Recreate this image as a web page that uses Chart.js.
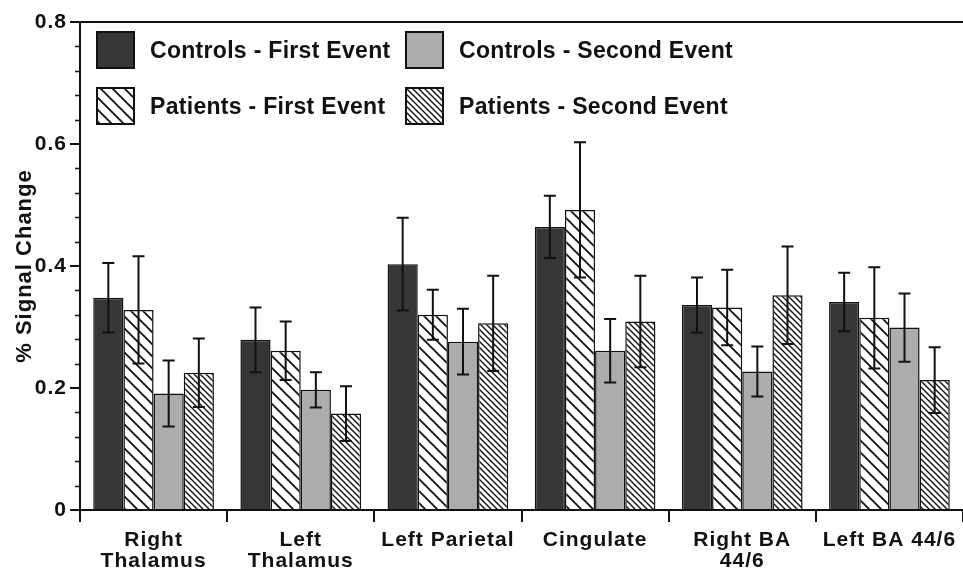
<!DOCTYPE html>
<html>
<head>
<meta charset="utf-8">
<script src="https://cdn.jsdelivr.net/npm/chart.js@4.4.1/dist/chart.umd.min.js"></script>
<style>
  html, body { margin: 0; padding: 0; background: #fff; }
  canvas { display: block; }
</style>
</head>
<body>
<canvas id="chart" width="963" height="569"></canvas>
<script>
// Brain regions (x categories)
const regions = [['Right', 'Thalamus'], ['Left', 'Thalamus'], 'Left Parietal', 'Cingulate', ['Right BA', '44/6'], 'Left BA 44/6'];

// Mean % signal change and error (half-length of the error bar) per group
const controlsFirst      = [0.348, 0.279, 0.403, 0.464, 0.336, 0.341];
const controlsFirstErr   = [0.057, 0.053, 0.076, 0.051, 0.045, 0.048];
const patientsFirst      = [0.328, 0.261, 0.320, 0.492, 0.332, 0.315];
const patientsFirstErr   = [0.088, 0.048, 0.041, 0.111, 0.062, 0.083];
const controlsSecond     = [0.191, 0.197, 0.276, 0.261, 0.227, 0.299];
const controlsSecondErr  = [0.054, 0.029, 0.054, 0.052, 0.041, 0.056];
const patientsSecond     = [0.225, 0.158, 0.306, 0.309, 0.352, 0.213];
const patientsSecondErr  = [0.056, 0.045, 0.078, 0.075, 0.080, 0.054];

// Y axis: labelled ticks every 0.2, minor ticks every 0.04
const yMajorTicks = [0, 0.2, 0.4, 0.6, 0.8];
const yMinorStep = 0.04;

const FONT = '"Liberation Sans", Arial, Helvetica, sans-serif';
const INK = '#111';

// Diagonal ("\") hatch fill
function hatch(spacing, lineWidth) {
  const c = document.createElement('canvas');
  c.width = spacing; c.height = spacing;
  const g = c.getContext('2d');
  g.fillStyle = '#fff';
  g.fillRect(0, 0, spacing, spacing);
  g.strokeStyle = INK;
  g.lineWidth = lineWidth;
  g.beginPath();
  for (const k of [-spacing, 0, spacing]) {
    g.moveTo(k - 1, -1);
    g.lineTo(k + spacing + 1, spacing + 1);
  }
  g.stroke();
  return g.createPattern(c, 'repeat');
}

const isMajor = v => yMajorTicks.some(m => Math.abs(m - v) < 1e-6);

// Slightly loose lettering for the axis texts
const looseText = {
  id: 'looseText',
  beforeDraw(chart) { chart.ctx.letterSpacing = '1px'; }
};

// Error bars drawn over the bars
const errorBars = {
  id: 'errorBars',
  afterDatasetsDraw(chart) {
    const { ctx } = chart;
    const y = chart.scales.y;
    ctx.save();
    ctx.strokeStyle = INK;
    ctx.lineWidth = 2;
    chart.data.datasets.forEach((ds, i) => {
      chart.getDatasetMeta(i).data.forEach((bar, j) => {
        const v = ds.data[j], e = ds.errors[j];
        const yt = y.getPixelForValue(v + e);
        const yb = y.getPixelForValue(v - e);
        ctx.beginPath();
        ctx.moveTo(bar.x, yt); ctx.lineTo(bar.x, yb);
        ctx.moveTo(bar.x - 6, yt); ctx.lineTo(bar.x + 6, yt);
        ctx.moveTo(bar.x - 6, yb); ctx.lineTo(bar.x + 6, yb);
        ctx.stroke();
      });
    });
    ctx.restore();
  }
};

// Top frame line, short minor ticks, and the two-column legend
const frameAndLegend = {
  id: 'frameAndLegend',
  afterDraw(chart) {
    const { ctx, chartArea: a } = chart;
    const y = chart.scales.y;
    ctx.save();
    ctx.strokeStyle = INK;
    ctx.lineWidth = 2;
    ctx.beginPath();
    ctx.moveTo(a.left, a.top);
    ctx.lineTo(a.right, a.top);
    ctx.stroke();

    ctx.lineWidth = 1.5;
    ctx.beginPath();
    y.ticks.forEach(t => {
      if (isMajor(t.value)) return;
      const py = Math.round(y.getPixelForValue(t.value)) + 0.5;
      ctx.moveTo(a.left - 5, py);
      ctx.lineTo(a.left, py);
    });
    ctx.stroke();

    const cols = [a.left + 17, a.left + 326];
    const rows = [a.top + 10, a.top + 66];
    ctx.letterSpacing = '0.3px';
    chart.data.datasets.forEach((ds, i) => {
      const bx = cols[Math.floor(i / 2)], by = rows[i % 2];
      ctx.fillStyle = ds.backgroundColor;
      ctx.fillRect(bx, by, 37, 36);
      ctx.strokeStyle = INK;
      ctx.lineWidth = 2;
      ctx.strokeRect(bx, by, 37, 36);
      ctx.fillStyle = INK;
      ctx.font = 'bold 23px ' + FONT;
      ctx.textBaseline = 'middle';
      ctx.textAlign = 'left';
      ctx.fillText(ds.label, bx + 53, by + 20);
    });
    ctx.restore();
  }
};

const barStyle = { borderColor: INK, borderWidth: 1.5, categoryPercentage: 0.82, barPercentage: 1.0 };

new Chart(document.getElementById('chart'), {
  type: 'bar',
  data: {
    labels: regions,
    datasets: [
      { label: 'Controls - First Event', data: controlsFirst, errors: controlsFirstErr, backgroundColor: '#363636', ...barStyle },
      { label: 'Patients - First Event', data: patientsFirst, errors: patientsFirstErr, backgroundColor: hatch(12, 1.8), ...barStyle },
      { label: 'Controls - Second Event', data: controlsSecond, errors: controlsSecondErr, backgroundColor: '#acacac', ...barStyle },
      { label: 'Patients - Second Event', data: patientsSecond, errors: patientsSecondErr, backgroundColor: hatch(6, 1.4), ...barStyle }
    ]
  },
  options: {
    responsive: false,
    animation: false,
    layout: { padding: { top: 22, right: -3, bottom: 0, left: 0 } },
    plugins: { legend: { display: false }, tooltip: { enabled: false } },
    scales: {
      x: {
        grid: { display: true, offset: true, drawOnChartArea: false, tickLength: 12, color: INK, lineWidth: 2 },
        border: { display: true, color: INK, width: 2 },
        ticks: { color: INK, font: { family: FONT, size: 21, weight: 'bold', lineHeight: 1.03 }, padding: 7, maxRotation: 0, autoSkip: false },
        afterFit(scale) { scale.height = 59; }
      },
      y: {
        min: 0,
        max: 0.8,
        grid: {
          drawOnChartArea: false,
          tickLength: 10,
          lineWidth: 2,
          tickColor: c => (c.tick && isMajor(c.tick.value)) ? INK : 'rgba(0,0,0,0)'
        },
        border: { display: true, color: INK, width: 2 },
        ticks: {
          stepSize: yMinorStep,
          autoSkip: false,
          color: INK,
          padding: 3,
          font: { family: FONT, size: 21, weight: 'bold' },
          callback: v => isMajor(v) ? String(Math.round(v * 10) / 10) : ''
        },
        title: {
          display: true,
          text: '% Signal Change',
          color: INK,
          font: { family: FONT, size: 22, weight: 'bold' },
          padding: { top: 12, bottom: 0 }
        },
        afterFit(scale) { scale.width = 80; }
      }
    }
  },
  plugins: [looseText, errorBars, frameAndLegend]
});
</script>
</body>
</html>
